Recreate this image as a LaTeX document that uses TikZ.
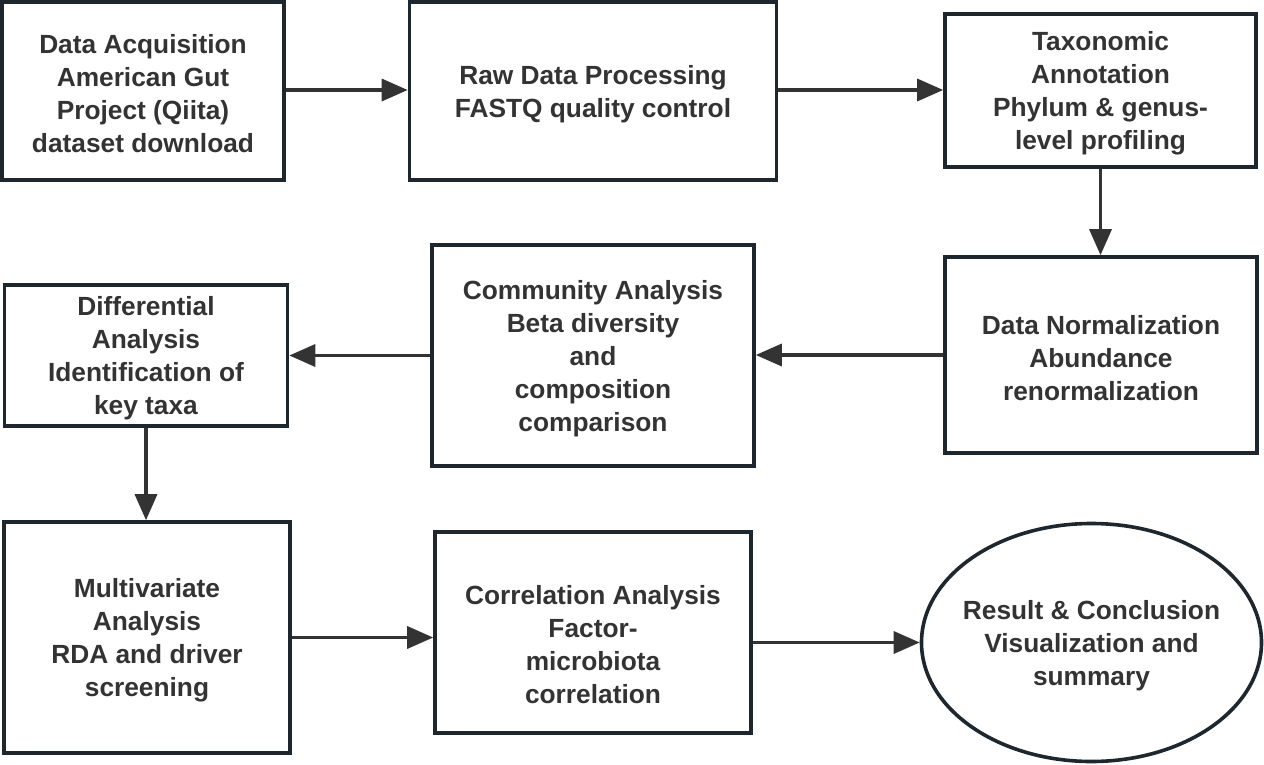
\documentclass[tikz,border=0pt]{standalone}
\usepackage{fontspec}
\setmainfont{Liberation Sans}
\usetikzlibrary{arrows.meta,shapes.geometric}
\definecolor{edge}{HTML}{1F272E}
\definecolor{ink}{HTML}{333333}
\tikzset{
  txt/.style={align=center, text=ink, font=\fontsize{26.3}{33}\selectfont\bfseries},
  box/.style={draw=edge, line width=3.6pt, fill=white, inner sep=0pt},
  lbl/.style={label={[txt, yshift=-3pt]center:{#1}}},
  oval/.style={box, ellipse},
  arr/.style={draw=ink, line width=3.4pt, -{Triangle[length=26pt,width=22pt]}}
}
\begin{document}
\begin{tikzpicture}[x=1pt,y=-1pt]
\useasboundingbox (0,0) rectangle (1264,765);
\node[box, minimum width=282pt, minimum height=178pt,
  lbl={Data Acquisition\\American Gut\\Project (Qiita)\\dataset download}] (n1) at (143,91) {};
\node[box, minimum width=367pt, minimum height=178pt,
  lbl={Raw Data Processing\\FASTQ quality control}] (n2) at (593,91) {};
\node[box, minimum width=311pt, minimum height=153pt,
  lbl={Taxonomic\\Annotation\\Phylum \& genus-\\level profiling}] (n3) at (1100.5,90.5) {};
\node[box, minimum width=312pt, minimum height=196pt,
  lbl={Data Normalization\\Abundance\\renormalization}] (n4) at (1101,355) {};
\node[box, minimum width=322pt, minimum height=221pt,
  lbl={Community Analysis\\Beta diversity\\and\\composition\\comparison}] (n5) at (593,355.5) {};
\node[box, minimum width=283pt, minimum height=141pt,
  lbl={Differential\\Analysis\\Identification of\\key taxa}] (n6) at (146,355.5) {};
\node[box, minimum width=286pt, minimum height=231pt,
  lbl={Multivariate\\Analysis\\RDA and driver\\screening}] (n7) at (147,637.5) {};
\node[box, minimum width=316pt, minimum height=201pt,
  label={[txt, yshift=-12pt]center:{Correlation Analysis\\Factor-\\microbiota\\correlation}}] (n8) at (593,632.5) {};
\node[oval, minimum width=340pt, minimum height=238pt,
  lbl={Result \& Conclusion\\Visualization and\\summary}] (n9) at (1091.5,642.5) {};
\draw[arr] (n1.east |- 0,90) -- (n2.west |- 0,90);
\draw[arr] (n2.east |- 0,90) -- (n3.west |- 0,90);
\draw[arr] (n3.south) -- (n3.south |- n4.north);
\draw[arr] (n4.west) -- (n4.west -| n5.east);
\draw[arr] (n5.west) -- (n5.west -| n6.east);
\draw[arr] (n6.south) -- (n6.south |- n7.north);
\draw[arr] (n7.east) -- (n7.east -| n8.west);
\draw[arr] (n8.east |- n9.west) -- (n9.west);
\end{tikzpicture}
\end{document}
